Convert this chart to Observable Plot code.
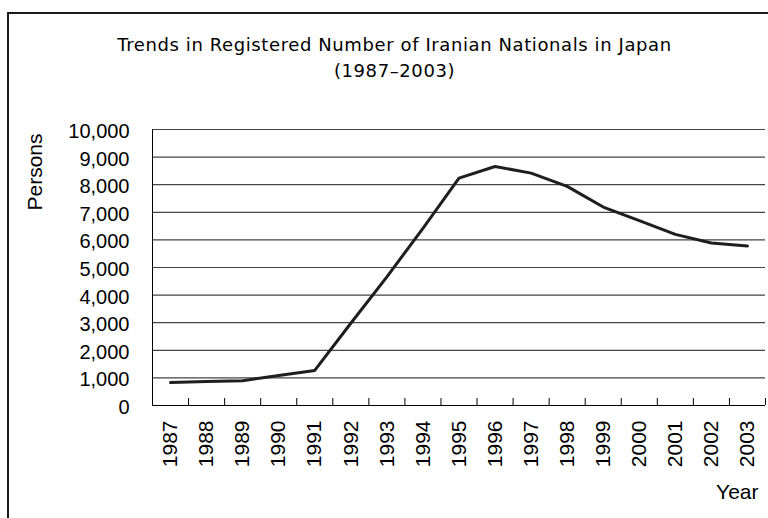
<!DOCTYPE html>
<html>
<head>
<meta charset="utf-8">
<script src="https://cdn.jsdelivr.net/npm/d3@7"></script>
<script src="https://cdn.jsdelivr.net/npm/@observablehq/plot@0.6"></script>
<style>
  html, body { margin: 0; padding: 0; background: #fff; }
  #wrap { position: relative; width: 768px; height: 518px; overflow: hidden; background: #fff; }
  #border { position: absolute; left: 7px; top: 12px; width: 900px; height: 700px; border: 2px solid #1a1a1a; box-sizing: border-box; }
  #chart { position: absolute; left: 0; top: 0; }
  .ttl text { letter-spacing: 0.6px; }
</style>
</head>
<body>
<div id="wrap"><div id="border"></div><div id="chart"></div></div>
<script>
// ---- data ----
const titleText = ["Trends in Registered Number of Iranian Nationals in Japan"];
const subtitleText = ["(1987\u20132003)"];
const yLabelText = ["Persons"];
const xLabelText = ["Year"];
const years = [1987, 1988, 1989, 1990, 1991, 1992, 1993, 1994, 1995, 1996, 1997, 1998, 1999, 2000, 2001, 2002, 2003];
const persons = [830, 870, 900, 1090, 1270, 2980, 4660, 6420, 8240, 8660, 8420, 7940, 7190, 6700, 6200, 5890, 5780];
const yTicks = [0, 1000, 2000, 3000, 4000, 5000, 6000, 7000, 8000, 9000, 10000];

const data = years.map((year, i) => ({year, persons: persons[i]}));
const xDomain = [years[0] - 0.5, years[years.length - 1] + 0.5];
const boundaries = years.map(y => y - 0.5).concat([years[years.length - 1] + 0.5]);

const FONT = "'Liberation Sans', Arial, sans-serif";
const TFONT = "'DejaVu Sans', sans-serif";

const chart = Plot.plot({
  width: 768,
  height: 518,
  marginLeft: 152,
  marginRight: 3,
  marginTop: 129,
  marginBottom: 113,
  style: {fontFamily: FONT, fontSize: "20px", background: "transparent", color: "#000"},
  x: {type: "linear", domain: xDomain},
  y: {domain: [0, 10000]},
  marks: [
    Plot.ruleY(yTicks.slice(1), {stroke: "#444", strokeWidth: 1.2}),
    Plot.ruleY([0], {stroke: "#000", strokeWidth: 1}),
    Plot.ruleX([xDomain[0]], {stroke: "#000", strokeWidth: 1}),
    Plot.axisY({ticks: yTicks, tickSize: 0, tickPadding: 23, tickFormat: d3.format(","), label: null, dy: 2, fill: "#000"}),
    Plot.axisX({ticks: boundaries, tickSize: -7, tickFormat: () => "", label: null, stroke: "#000"}),
    Plot.axisX({ticks: years, tickSize: 0, tickPadding: 15, tickRotate: -90, textAnchor: "end", lineAnchor: "middle", tickFormat: d => String(d), label: null, fill: "#000", fontSize: 21}),
    Plot.line(data, {x: "year", y: "persons", stroke: "#1e1e1e", strokeWidth: 3}),
    Plot.text(titleText, {frameAnchor: "top", dx: -64.5, dy: -79, lineAnchor: "bottom", textAnchor: "middle", fontFamily: TFONT, fontSize: 18, fill: "#000", className: "ttl"}),
    Plot.text(subtitleText, {frameAnchor: "top", dx: -64.5, dy: -53, lineAnchor: "bottom", textAnchor: "middle", fontFamily: TFONT, fontSize: 18, fill: "#000", className: "ttl"}),
    Plot.text(yLabelText, {frameAnchor: "top-left", dx: -110.5, dy: 42.5, rotate: -90, lineAnchor: "bottom", textAnchor: "middle", fontSize: 21, fill: "#000"}),
    Plot.text(xLabelText, {frameAnchor: "bottom-right", dx: -7, dy: 93, lineAnchor: "bottom", textAnchor: "end", fontSize: 21, fill: "#000"})
  ]
});
document.getElementById("chart").appendChild(chart);
</script>
</body>
</html>
